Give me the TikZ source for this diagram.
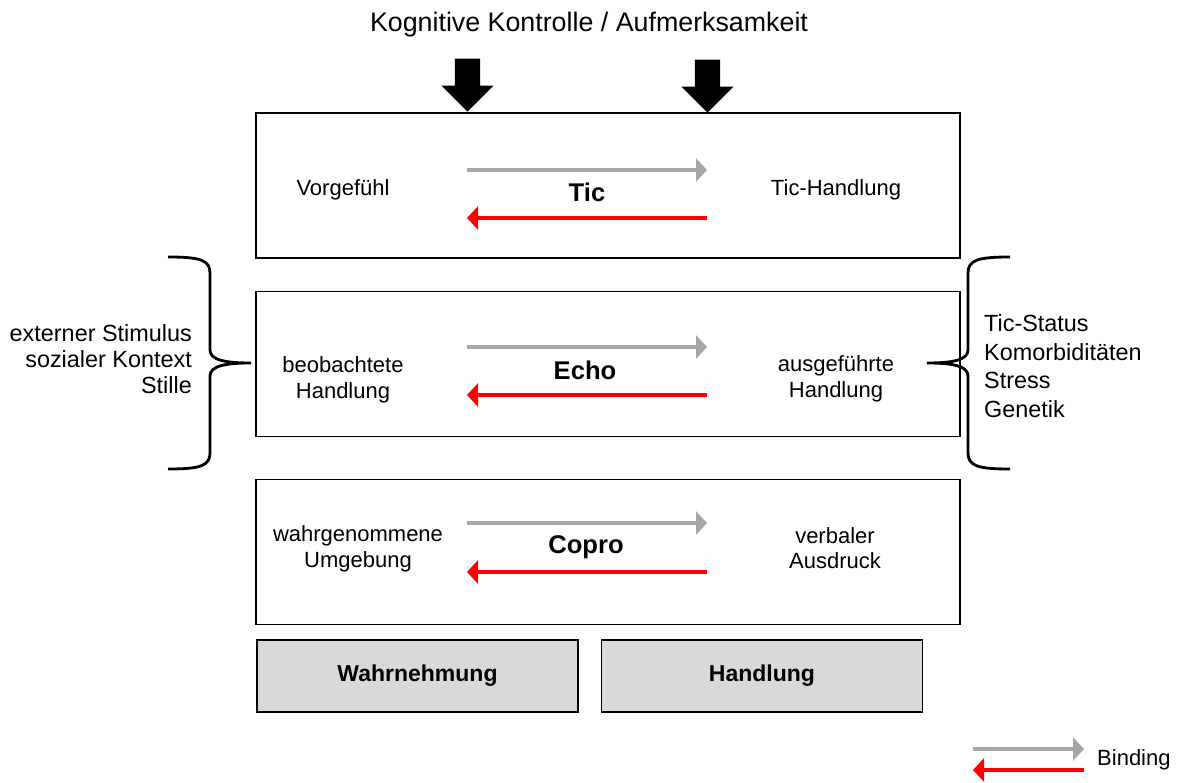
\documentclass[tikz,border=0pt]{standalone}
\usepackage{fontspec}
\setmainfont{Liberation Sans}
\usetikzlibrary{arrows.meta}
\usetikzlibrary{shapes.arrows}
\colorlet{bindgray}{black!35}
\definecolor{bindred}{RGB}{255,0,0}
\tikzstyle{stagebox}=[draw,line width=1.4pt,minimum width=704pt,minimum height=145pt,inner sep=0pt]
\tikzstyle{realmbox}=[draw,fill=black!15,line width=1.4pt,minimum width=321pt,minimum height=72pt,inner sep=0pt,font=\fontsize{23}{27}\selectfont\bfseries]
\tikzstyle{bindhead}=[>/.tip={Triangle[length=11pt,width=23pt]}]
\tikzstyle{fwd}=[line width=4.5pt,bindhead,->,draw=bindgray]
\tikzstyle{bwd}=[line width=4.5pt,bindhead,->,draw=bindred]
\tikzstyle{txt}=[font=\fontsize{22}{25.5}\selectfont,align=center,inner sep=0pt]
\tikzstyle{side}=[font=\fontsize{23.4}{26}\selectfont,inner sep=0pt]
\tikzstyle{kind}=[font=\fontsize{25.6}{30}\selectfont\bfseries,inner sep=0pt]
\tikzstyle{focusarrow}=[single arrow,fill=black,shape border rotate=270,inner xsep=12.5pt,inner ysep=0pt,minimum width=52pt,
  single arrow head extend=13.5pt,single arrow head indent=0pt,minimum height=53pt]
\tikzstyle{bracket}=[line width=2.8pt]

\begin{document}
\begin{tikzpicture}[x=1pt,y=-1pt]
	\useasboundingbox (0,0) rectangle (1184,783);
	% title and the two attention arrows
	\node[font=\fontsize{26.8}{30}\selectfont,inner sep=0pt] (focus) at (589,25) {Kognitive Kontrolle / Aufmerksamkeit};
	\node[stagebox] (tic)   at (608,185.5) {};
	\node[stagebox] (echo)  at (608,364)   {};
	\node[stagebox] (copro) at (608,552)   {};
	\node[focusarrow,anchor=tip] (focusL) at (467.5,112) {};
	\node[focusarrow,anchor=tip] (focusR) at (707.5,113) {};
	% Tic
	\node[txt]  (tic-in)  at (343,190) {Vorgef\"uhl};
	\node[txt]  (tic-out) at (836,190) {Tic-Handlung};
	\node[kind] (tic-k)   at (587,192) {Tic};
	\coordinate (tic-a) at (467,170); \coordinate (tic-b) at (707,170);
	\coordinate (tic-c) at (707,218); \coordinate (tic-d) at (467,218);
	\draw[fwd] (tic-a) -- (tic-b);
	\draw[bwd] (tic-c) -- (tic-d);
	% Echo
	\node[txt]  (echo-in)  at (343,380) {beobachtete\\Handlung};
	\node[txt]  (echo-out) at (836,379) {ausgef\"uhrte\\Handlung};
	\node[kind] (echo-k)   at (585,370) {Echo};
	\coordinate (echo-a) at (467,347); \coordinate (echo-b) at (707,347);
	\coordinate (echo-c) at (707,395); \coordinate (echo-d) at (467,395);
	\draw[fwd] (echo-a) -- (echo-b);
	\draw[bwd] (echo-c) -- (echo-d);
	% Copro
	\node[txt]  (copro-in)  at (358,549) {wahrgenommene\\Umgebung};
	\node[txt]  (copro-out) at (835,548) {verbaler\\Ausdruck};
	\node[kind] (copro-k)   at (586,547) {Copro};
	\coordinate (copro-a) at (467,523); \coordinate (copro-b) at (707,523);
	\coordinate (copro-c) at (707,572); \coordinate (copro-d) at (467,572);
	\draw[fwd] (copro-a) -- (copro-b);
	\draw[bwd] (copro-c) -- (copro-d);
	% perception / action
	\node[realmbox] (perc) at (417.5,676) {Wahrnehmung};
	\node[realmbox] (act)  at (762,676)   {Handlung};
	% context braces
	\coordinate (lb-top) at (168,257); \coordinate (lb-tip) at (251,363); \coordinate (lb-bot) at (168,469);
	\coordinate (rb-top) at (1010,257); \coordinate (rb-tip) at (927,363); \coordinate (rb-bot) at (1010,469);
	\draw[bracket] (lb-top) .. controls (200,257) and (210,260) .. (210,273) -- (210,350)
	  .. controls (210,360) and (225,363) .. (lb-tip) .. controls (225,363) and (210,366) .. (210,376)
	  -- (210,453) .. controls (210,466) and (200,469) .. (lb-bot);
	\draw[bracket] (rb-top) .. controls (978,257) and (968,260) .. (968,273) -- (968,350)
	  .. controls (968,360) and (953,363) .. (rb-tip) .. controls (953,363) and (968,366) .. (968,376)
	  -- (968,453) .. controls (968,466) and (978,469) .. (rb-bot);
	\node[side,align=right,anchor=east] (ext) at (192,359) {externer Stimulus\\sozialer Kontext\\Stille};
	\node[side,align=left,anchor=west,font=\fontsize{23.4}{28.5}\selectfont] (int) at (984,366) {Tic-Status\\Komorbidit\"aten\\Stress\\Genetik};
	% legend
	\coordinate (leg-a) at (973,749); \coordinate (leg-b) at (1084,749);
	\coordinate (leg-c) at (1084,770); \coordinate (leg-d) at (973,770);
	\draw[fwd] (leg-a) -- (leg-b);
	\draw[bwd] (leg-c) -- (leg-d);
	\node[txt,anchor=west] (leg) at (1097,760) {Binding};
\end{tikzpicture}
\end{document}
